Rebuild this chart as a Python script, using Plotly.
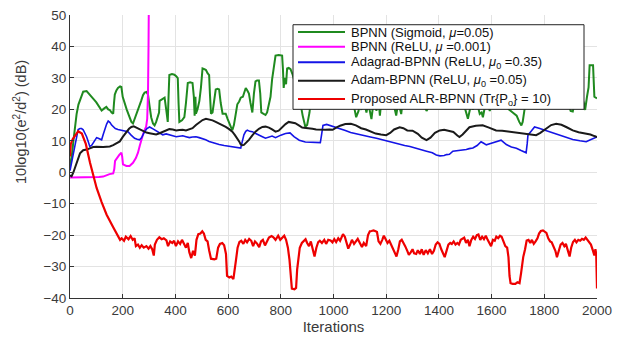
import plotly.graph_objects as go

# ---- data ----
green_x = [0, 8, 13, 20, 25, 32, 38, 44, 50, 63, 72, 82, 92, 100, 110, 120, 130, 138, 145, 151, 158, 164, 167, 170, 176, 182, 190, 195, 200, 208, 215, 226, 233, 239, 246, 252, 260, 270, 277, 283, 290, 296, 302, 308, 315, 321, 327, 333, 338, 340, 350, 359, 365, 371, 374, 377, 387, 396, 403, 409, 412, 415, 425, 434, 440, 447, 456, 465, 470, 473, 476, 478, 484, 491, 497, 503, 510, 516, 522, 528, 531, 535, 541, 545, 553, 560, 566, 572, 579, 585, 591, 598, 604, 610, 616, 622, 628, 635, 642, 648, 656, 662, 667, 673, 679, 685, 692, 698, 704, 710, 717, 722, 726, 730, 736, 742, 748, 755, 761, 767, 774, 780, 792, 805, 808, 811, 815, 820, 824, 830, 837, 845, 855, 870, 883, 893, 900, 909, 915, 930, 950, 970, 990, 1010, 1030, 1050, 1070, 1080, 1086, 1095, 1100, 1106, 1112, 1120, 1125, 1132, 1138, 1144, 1150, 1156, 1163, 1170, 1176, 1182, 1195, 1215, 1230, 1238, 1245, 1250, 1257, 1263, 1280, 1300, 1320, 1340, 1348, 1353, 1360, 1368, 1390, 1410, 1430, 1450, 1470, 1490, 1500, 1510, 1518, 1525, 1529, 1535, 1545, 1555, 1562, 1567, 1575, 1585, 1593, 1600, 1620, 1640, 1656, 1665, 1680, 1695, 1705, 1713, 1718, 1725, 1735, 1760, 1790, 1820, 1850, 1870, 1890, 1900, 1908, 1915, 1935, 1950, 1955, 1962, 1968, 1972, 1985, 1990, 2000]
green_y = [2, 6, 10, 16, 18.5, 21.5, 22.7, 24.5, 25.6, 25.8, 25, 24.2, 23, 22.2, 21, 19.6, 20.3, 20.8, 20, 19.8, 19, 18.6, 22, 24.7, 26, 26.8, 27.3, 27.1, 24, 21.6, 20, 17.5, 16, 15.5, 17, 18.6, 20.5, 22.7, 24.5, 25.3, 25.5, 24.7, 21, 17.5, 15.5, 14.9, 16, 17.5, 19, 22.7, 23.2, 23.7, 20, 16, 24, 30.9, 31.2, 31, 30.5, 29.9, 22, 16, 16.5, 17.5, 22, 28.4, 28.6, 28.4, 24, 18, 24, 18.6, 20, 22.7, 27, 33, 32.8, 32.5, 31.5, 30.9, 25, 18.6, 19, 22, 26.3, 26.5, 26.3, 22, 18.6, 18.6, 18.6, 17, 15.5, 14.5, 13.4, 15, 18, 21.6, 22.5, 23.7, 24, 26, 26.8, 26, 25, 22, 19, 25, 28.9, 29.2, 29.2, 25, 19, 18.8, 18.5, 18.2, 19, 21.8, 24, 29.5, 33, 37.1, 37.3, 37.1, 33, 26.8, 30, 28, 33, 33.2, 32.8, 31, 28, 24, 18, 14.5, 15, 19, 24, 26, 28, 27, 26, 29, 27, 26, 24, 20, 17.5, 19.5, 22, 19.8, 24, 21, 19, 22, 19.5, 16.9, 21, 23, 19.5, 24, 18, 23, 27, 26, 21, 18, 22, 21, 18.5, 23, 27, 28, 26, 23, 20.5, 19.5, 20.5, 24, 27, 28, 27, 26, 25, 23, 20, 17, 20, 22, 19.8, 23, 22, 18.5, 19, 17.5, 21, 22, 19.5, 22, 26, 24, 22, 20, 19, 18, 16, 14.9, 16, 20, 24, 27, 28, 27, 26, 25, 22, 19.5, 19.3, 22, 26, 22, 19.8, 24, 27, 34, 34, 24, 23.5]

magenta_x = [0, 30, 60, 88, 110, 126, 140, 150, 164, 168, 171, 178, 187, 195, 198, 201, 214, 226, 239, 250, 258, 265, 270, 277, 283, 289, 293, 296, 298, 301, 305]
magenta_y = [-1.7, -1.7, -1.6, -1.6, -1.5, -1.4, -0.9, -0.6, -0.4, 1, 3.6, 4.5, 5.5, 6.2, 5, 2.5, 2, 2, 3, 4.5, 6.2, 8.5, 10.3, 12, 13.4, 14.5, 17, 25, 40, 60, 120]

blue_x = [0, 6, 13, 19, 25, 31, 38, 44, 50, 57, 63, 70, 75, 82, 88, 95, 101, 107, 113, 120, 126, 132, 139, 145, 152, 158, 164, 172, 182, 192, 201, 210, 220, 232, 245, 255, 264, 272, 283, 292, 302, 315, 327, 340, 352, 365, 377, 390, 403, 415, 428, 440, 453, 465, 478, 490, 503, 515, 528, 545, 566, 585, 604, 620, 629, 640, 648, 653, 660, 667, 673, 682, 692, 705, 717, 730, 742, 755, 767, 780, 792, 800, 818, 835, 850, 870, 893, 912, 930, 950, 955, 960, 974, 990, 1005, 1024, 1045, 1065, 1085, 1100, 1120, 1140, 1163, 1185, 1205, 1226, 1250, 1270, 1290, 1310, 1330, 1353, 1375, 1390, 1404, 1420, 1429, 1440, 1453, 1470, 1490, 1504, 1515, 1529, 1545, 1560, 1570, 1580, 1590, 1605, 1620, 1636, 1646, 1656, 1675, 1694, 1712, 1731, 1735, 1738, 1750, 1763, 1780, 1795, 1807, 1830, 1858, 1880, 1908, 1935, 1959, 1975, 1990, 2000]
blue_y = [0.5, 3, 6.2, 9.5, 11.8, 13.6, 13.9, 13.9, 13.5, 12.3, 11.3, 9.5, 8.2, 8.5, 9.3, 10.2, 11, 10.8, 10.5, 10.3, 12, 13.9, 15.3, 16.3, 15.8, 15, 14.4, 13.9, 13.6, 13.4, 13.2, 13, 12.9, 11.8, 10.8, 10.5, 10.3, 11, 12.9, 13.9, 14.4, 13.8, 13.2, 12.5, 11.9, 12.2, 12, 11.6, 11.3, 11.5, 11.6, 11.3, 11, 11.2, 11.3, 11, 10.7, 10.3, 9.8, 9.3, 8.8, 8.5, 8.3, 8.1, 8, 7.8, 7.7, 9.5, 11.9, 13, 13.4, 13, 12.9, 12.3, 11.9, 11.3, 10.8, 11.2, 11.5, 11, 11.5, 11.8, 12.3, 12.5, 11.3, 10.2, 9.6, 9.5, 9.4, 9.4, 12, 14.9, 15.2, 14.8, 14.4, 13.8, 13.3, 12.6, 12.2, 11.8, 11.6, 11.2, 10.8, 10.3, 9.9, 9.3, 8.8, 8.5, 8.2, 7.8, 7.3, 6.7, 6.2, 5.5, 5.2, 5.3, 5.6, 5.7, 6.7, 6.8, 6.9, 7.2, 7.5, 7.7, 8.5, 9.7, 9.2, 8.7, 9, 9.4, 9.8, 10.2, 9.5, 8.8, 8, 7.6, 6.9, 6.2, 9, 11.8, 13, 14.4, 14, 13.6, 13.3, 12.5, 11.8, 11.2, 10.4, 10, 9.7, 10.3, 11, 11.2]

black_x = [0, 6, 13, 19, 25, 31, 38, 44, 50, 63, 75, 88, 100, 113, 126, 139, 151, 164, 176, 189, 201, 214, 224, 233, 242, 252, 265, 277, 290, 302, 315, 327, 340, 352, 365, 377, 390, 403, 415, 428, 440, 452, 465, 478, 491, 503, 516, 528, 541, 553, 566, 578, 591, 604, 616, 626, 635, 642, 648, 654, 660, 670, 679, 692, 704, 717, 730, 742, 755, 767, 780, 792, 805, 818, 830, 845, 855, 870, 881, 896, 906, 920, 934, 950, 969, 985, 997, 1010, 1025, 1045, 1066, 1085, 1105, 1123, 1140, 1160, 1180, 1200, 1215, 1230, 1251, 1265, 1280, 1300, 1320, 1335, 1353, 1368, 1385, 1403, 1420, 1440, 1455, 1470, 1478, 1490, 1505, 1516, 1540, 1566, 1590, 1617, 1640, 1660, 1681, 1705, 1731, 1750, 1769, 1785, 1807, 1826, 1845, 1865, 1885, 1908, 1930, 1959, 1975, 1990, 2000]
black_y = [-1, -1.3, 0, 1.5, 3, 4.5, 6, 6.5, 7, 7.2, 7.6, 8, 8.1, 8, 8, 8.1, 8.2, 8.6, 9.3, 9.8, 11.3, 12.9, 13.8, 14.4, 14.6, 14.2, 13.6, 13, 12.6, 12.4, 12.2, 12, 12.4, 12.9, 13.3, 13.7, 13.6, 13.3, 13.4, 13.5, 13.3, 13.6, 14, 15, 16, 16.6, 17, 16.8, 16.5, 16, 15.5, 14.9, 14.4, 13.7, 12.9, 11.8, 10.8, 9.8, 8.8, 8.6, 8.7, 9.4, 10.3, 11.7, 12.9, 13.8, 14.4, 14.5, 14.2, 13.6, 12.9, 13.2, 14.4, 15.3, 16, 15.8, 15.6, 14.8, 14.2, 14.1, 13.9, 13.8, 13.6, 13.5, 13.5, 13.6, 13.5, 14.2, 14.8, 15.3, 15.4, 14.9, 14, 13.6, 13, 12.3, 12, 11.8, 12.5, 13.6, 14.3, 14, 13.3, 13.2, 12.2, 11, 10.2, 11, 12.5, 13.3, 13.5, 13.2, 12.8, 11.7, 11.2, 12, 13.5, 14.3, 14.8, 14.9, 14.2, 13.3, 13.2, 13, 12.8, 12.6, 12.3, 12, 11.8, 12.5, 14, 15, 15.4, 15.1, 14.3, 13.3, 12.7, 12.3, 12, 11.5, 11.2]

red_x = [0, 3, 10, 20, 31, 45, 60, 76, 88, 101, 120, 139, 164, 182, 190, 196, 205, 212, 222, 230, 238, 245, 250, 258, 265, 272, 280, 290, 298, 305, 312, 318, 322, 330, 339, 348, 356, 366, 372, 380, 388, 395, 402, 410, 418, 425, 432, 440, 447, 453, 460, 467, 474, 480, 487, 495, 502, 508, 515, 522, 528, 535, 548, 555, 562, 569, 578, 585, 592, 596, 605, 612, 620, 625, 630, 636, 643, 650, 658, 665, 672, 680, 688, 695, 702, 710, 718, 725, 732, 740, 748, 755, 765, 772, 780, 790, 798, 805, 813, 820, 827, 833, 838, 842, 852, 858, 862, 867, 872, 880, 888, 894, 900, 907, 914, 921, 928, 935, 942, 948, 956, 965, 972, 980, 989, 996, 1003, 1010, 1018, 1025, 1030, 1036, 1043, 1050, 1056, 1063, 1070, 1078, 1085, 1092, 1100, 1108, 1115, 1124, 1131, 1138, 1144, 1152, 1160, 1165, 1171, 1178, 1185, 1191, 1198, 1205, 1212, 1219, 1225, 1232, 1239, 1246, 1252, 1259, 1266, 1272, 1280, 1286, 1293, 1300, 1306, 1314, 1320, 1328, 1335, 1342, 1350, 1358, 1366, 1374, 1381, 1388, 1395, 1402, 1409, 1416, 1422, 1429, 1436, 1443, 1449, 1456, 1463, 1470, 1476, 1483, 1490, 1496, 1503, 1510, 1516, 1523, 1530, 1537, 1544, 1550, 1557, 1564, 1571, 1578, 1585, 1592, 1598, 1605, 1612, 1618, 1625, 1632, 1638, 1645, 1652, 1659, 1664, 1668, 1672, 1680, 1690, 1698, 1706, 1712, 1720, 1727, 1733, 1740, 1747, 1753, 1760, 1767, 1774, 1780, 1787, 1795, 1802, 1808, 1815, 1822, 1828, 1835, 1842, 1848, 1855, 1862, 1869, 1876, 1882, 1889, 1896, 1902, 1909, 1916, 1922, 1929, 1936, 1943, 1950, 1957, 1963, 1970, 1977, 1984, 1990, 1994, 1997, 2000]
red_y = [5, 9, 10.5, 11.8, 13, 12.3, 9, 3, -1, -5, -9.5, -13.5, -17.5, -20.5, -21.5, -21, -21.8, -20.5, -21.3, -20.3, -21.5, -21, -23.5, -23, -24, -23.2, -24, -23.5, -24.3, -23.5, -24.5, -26.5, -23, -21.5, -20.7, -21.3, -21, -21.7, -23.5, -22, -22.5, -21.8, -23.5, -22, -22.8, -21.5, -22.5, -24, -22.5, -25.5, -27.3, -25, -26.5, -21.5, -19.7, -19.5, -18.8, -19.5, -21.5, -22, -24.8, -27.5, -27.7, -27.5, -24, -22.8, -22.5, -23.2, -26, -33, -33.5, -33.2, -34, -30, -27.9, -24, -22.2, -21.8, -22.8, -21.5, -22.3, -21.2, -21.8, -23.5, -22, -22.7, -23.8, -22, -21.5, -23.3, -21.8, -20.8, -20.3, -20.7, -21.5, -20.2, -21.5, -20.8, -20.2, -21.5, -24, -27.9, -34, -37, -37.2, -36.8, -31, -27.3, -24, -22.5, -21.7, -21.3, -22.5, -23.5, -22, -25, -26.8, -24, -22.2, -21.8, -22.5, -21.5, -22.8, -21.5, -21.7, -22.3, -21.3, -22.2, -21, -21.8, -20.5, -19.7, -20.5, -22.5, -24.3, -23, -21.5, -22.8, -22, -21.2, -22.5, -23.8, -22.5, -23.5, -20, -18.8, -18.7, -18.5, -18.8, -19, -22, -22.8, -21.5, -20.2, -21.3, -22.5, -21.8, -23, -24.5, -25.5, -26.8, -24.5, -22, -21.5, -22.5, -23.5, -25, -26.3, -25.5, -24.5, -25.8, -26, -24.8, -26, -24.5, -26.3, -24.8, -25.8, -24.5, -26, -25, -23, -22.3, -22.8, -24.5, -26, -27, -25, -23, -22.5, -22.8, -22, -23, -22.5, -23, -21.5, -21, -20.8, -22.5, -21.5, -23.5, -21.5, -20.5, -21.2, -20, -19.8, -21.5, -20.5, -21.3, -20.2, -21.5, -22.5, -23.5, -21.5, -21.8, -20.5, -21, -20.2, -20.5, -22, -23.5, -24, -27, -33, -35.3, -35.5, -35.5, -35, -35.3, -32, -27, -24.5, -21.7, -21.5, -22.5, -21.5, -22.8, -22, -21, -19.5, -18.7, -18.5, -18.8, -19.3, -21, -22, -22.3, -23.8, -25, -27, -24.5, -23, -22.5, -23.5, -22.8, -24.5, -26.8, -24, -22.2, -21.5, -22.3, -21.5, -21.8, -21.2, -21.5, -20.8, -21.5, -22.3, -23, -24.8, -26.5, -24.5, -26, -37]

names = [
    "BPNN (Sigmoid, <i>μ</i>=0.05)",
    "BPNN (ReLU, <i>μ</i> =0.001)",
    "Adagrad-BPNN (ReLU, <i>μ</i><sub>0</sub> =0.35)",
    "Adam-BPNN (ReLU, <i>μ</i><sub>0</sub> =0.05)",
    "Proposed ALR-BPNN (Tr{P<sub>o</sub>} = 10)",
]
colors = ["#1f8a1f", "#ff00ff", "#1414e6", "#1a1a1a", "#ee0000"]
widths = [2, 2, 1.6, 2, 2.2]
x_ticks = list(range(0, 2001, 200))
y_ticks = list(range(-40, 51, 10))

FONT = "Liberation Sans, Arial, sans-serif"
TXT = "#3a3a3a"

# plot-area geometry in pixels (for the boxed legend layout)
ML, MR, MT, MB = 70, 32, 8, 40
W, H = 629, 339
PW, PH = W - ML - MR, H - MT - MB


def px_x(p):
    return (p - ML) / PW


def px_y(p):
    return 1 - (p - MT) / PH


fig = go.Figure()
for xs, ys, col, w, nm in zip([green_x, magenta_x, blue_x, black_x, red_x],
                              [green_y, magenta_y, blue_y, black_y, red_y],
                              colors, widths, names):
    fig.add_trace(go.Scatter(x=xs, y=ys, mode="lines", name=nm, showlegend=False,
                             line=dict(color=col, width=w)))

# boxed legend (MATLAB style)
shapes = [dict(type="rect", xref="paper", yref="paper",
               x0=px_x(293), x1=px_x(584), y0=px_y(105), y1=px_y(18),
               fillcolor="white", line=dict(color="#222", width=1), layer="above")]
annotations = []
row_y = [25.5, 40.7, 56.5, 75.5, 94.5]
for ry, col, nm in zip(row_y, colors, names):
    shapes.append(dict(type="line", xref="paper", yref="paper",
                       x0=px_x(298), x1=px_x(345), y0=px_y(ry), y1=px_y(ry),
                       line=dict(color=col, width=2), layer="above"))
    annotations.append(dict(text=nm, xref="paper", yref="paper", x=px_x(349),
                            y=px_y(ry), xanchor="left", yanchor="middle",
                            showarrow=False,
                            font=dict(family=FONT, size=13, color="#111")))

# y-axis title (placed as in the reference)
annotations.append(dict(text="10log10(e<sup>2</sup>/d<sup>2</sup>) (dB)",
                        xref="paper", yref="paper", x=px_x(20), y=px_y(118),
                        xanchor="center", yanchor="middle", textangle=-90,
                        showarrow=False, font=dict(family=FONT, size=14.5, color=TXT)))

fig.update_layout(
    width=W, height=H,
    margin=dict(l=ML, r=MR, t=MT, b=MB),
    paper_bgcolor="white", plot_bgcolor="white",
    font=dict(family=FONT, size=13, color=TXT),
    showlegend=False,
    shapes=shapes, annotations=annotations,
)
axis_font = dict(family=FONT, size=13.5, color=TXT)
fig.update_xaxes(range=[0, 2000], tickvals=x_ticks, ticks="inside", ticklen=4,
                 tickcolor="#333", showline=True, linecolor="#333", linewidth=1,
                 showgrid=True, gridcolor="#e3e3e3", zeroline=False,
                 tickfont=axis_font,
                 title=dict(text="Iterations", font=dict(family=FONT, size=15, color=TXT), standoff=2))
fig.update_yaxes(range=[-40, 50], tickvals=y_ticks, ticks="inside", ticklen=4,
                 tickcolor="#333", showline=True, linecolor="#333", linewidth=1,
                 showgrid=True, gridcolor="#e3e3e3", zeroline=False,
                 tickfont=axis_font)

fig.write_html("out.html", config={"displayModeBar": False},
               post_script="document.body.style.margin='0px';")
